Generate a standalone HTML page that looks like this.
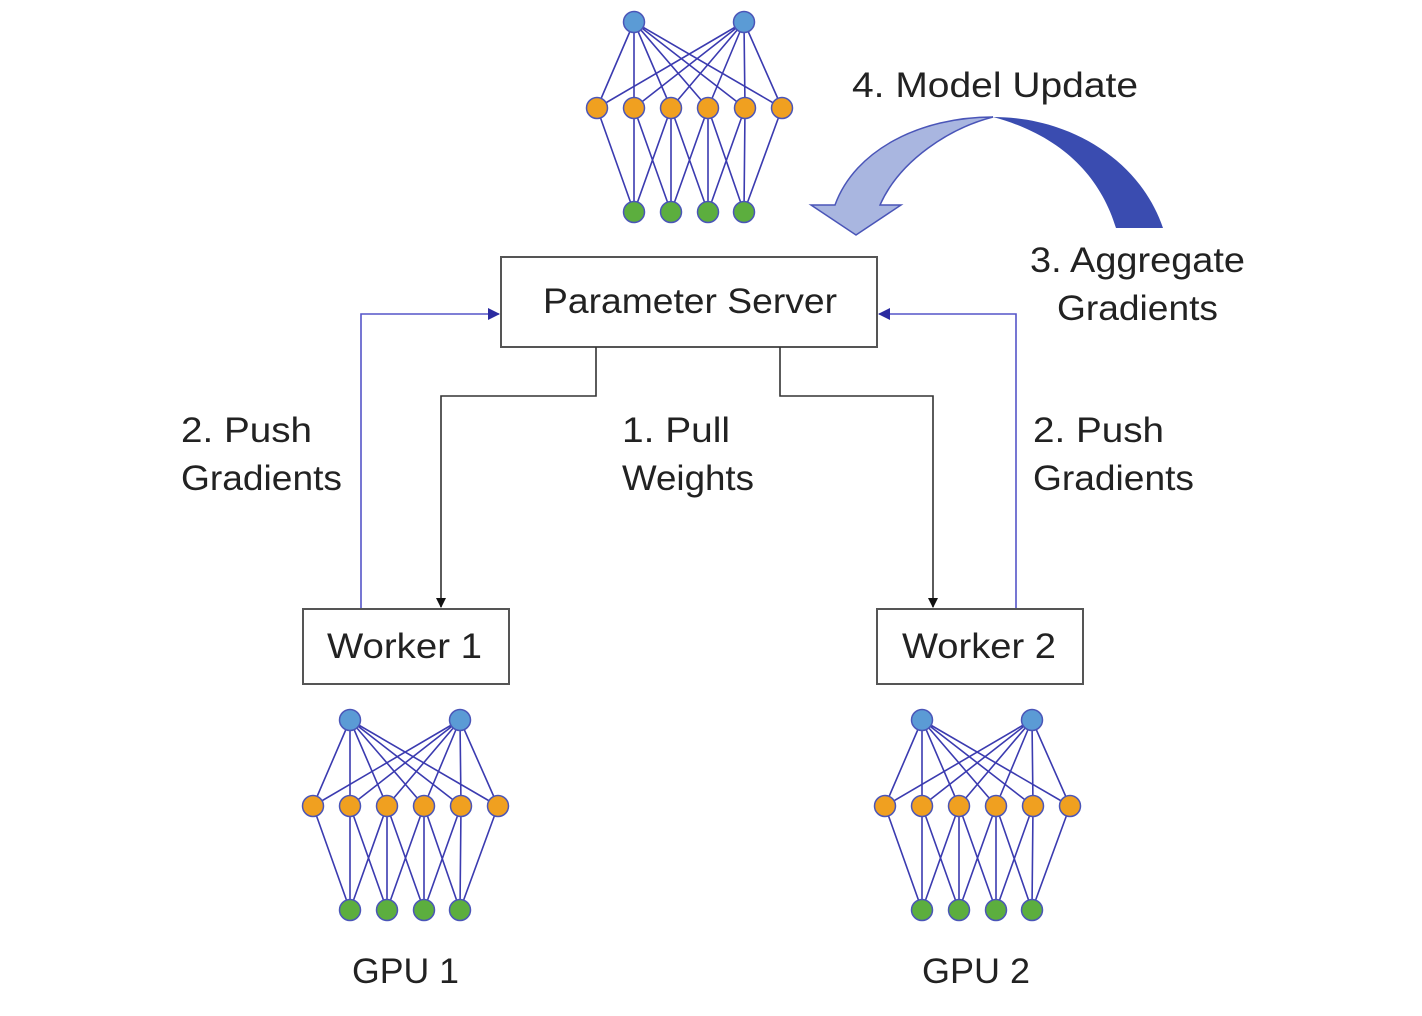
<!DOCTYPE html>
<html><head><meta charset="utf-8"><style>body{margin:0;background:#fff}svg{display:block}</style></head><body>
<svg width="1422" height="1016" viewBox="0 0 1422 1016" xmlns="http://www.w3.org/2000/svg">
<defs>
<marker id="ab" markerWidth="10" markerHeight="10" refX="9" refY="5" orient="auto" markerUnits="userSpaceOnUse"><path d="M0,0 L10,5 L0,10 z" fill="#111"/></marker>
<marker id="au" markerWidth="12" markerHeight="12" refX="11" refY="6" orient="auto" markerUnits="userSpaceOnUse"><path d="M0,0 L12,6 L0,12 z" fill="#2b2ba0"/></marker>
<g id="net">
<g stroke="#3b3bb0" stroke-width="1.6" fill="none">
<path d="M0,0 L-37,86 M0,0 L0,86 M0,0 L37,86 M0,0 L74,86 M0,0 L111,86 M0,0 L148,86"/>
<path d="M110,0 L-37,86 M110,0 L0,86 M110,0 L37,86 M110,0 L74,86 M110,0 L111,86 M110,0 L148,86"/>
<path d="M-37,86 L0,190 M0,86 L0,190 M0,86 L37,190 M37,86 L0,190 M37,86 L37,190 M37,86 L74,190 M74,86 L37,190 M74,86 L74,190 M74,86 L110,190 M111,86 L74,190 M111,86 L110,190 M148,86 L110,190"/>
</g>
<g stroke="#4a55b8" stroke-width="1.5">
<circle cx="0" cy="0" r="10.5" fill="#5b9bd5"/><circle cx="110" cy="0" r="10.5" fill="#5b9bd5"/>
<circle cx="-37" cy="86" r="10.5" fill="#f0a020"/><circle cx="0" cy="86" r="10.5" fill="#f0a020"/><circle cx="37" cy="86" r="10.5" fill="#f0a020"/><circle cx="74" cy="86" r="10.5" fill="#f0a020"/><circle cx="111" cy="86" r="10.5" fill="#f0a020"/><circle cx="148" cy="86" r="10.5" fill="#f0a020"/>
<circle cx="0" cy="190" r="10.5" fill="#5cae3e"/><circle cx="37" cy="190" r="10.5" fill="#5cae3e"/><circle cx="74" cy="190" r="10.5" fill="#5cae3e"/><circle cx="110" cy="190" r="10.5" fill="#5cae3e"/>
</g>
</g>
</defs>
<use href="#net" x="634" y="22"/>
<use href="#net" x="350" y="720"/>
<use href="#net" x="922" y="720"/>

<!-- curved arrow -->
<path d="M993,117 C1070,117 1140,160 1163,228 L1116,228 C1100,175 1060,135 993,117 z" fill="#3a4cb0"/>
<path d="M993,117 C920,117 855,150 835,205 L811,205 L856,235 L901,205 L880,205 C900,160 950,128 993,117 z" fill="#a9b6e0" stroke="#4a55b8" stroke-width="1.5"/>

<!-- boxes -->
<g fill="#fff" stroke="#555" stroke-width="2">
<rect x="501" y="257" width="376" height="90"/>
<rect x="303" y="609" width="206" height="75"/>
<rect x="877" y="609" width="206" height="75"/>
</g>

<!-- connectors -->
<g fill="none" stroke-width="1.6">
<path d="M596,347 V396 H441 V607" stroke="#333" marker-end="url(#ab)"/>
<path d="M780,347 V396 H933 V607" stroke="#333" marker-end="url(#ab)"/>
<path d="M361,608 V314 H499" stroke="#5555c8" marker-end="url(#au)"/>
<path d="M1016,608 V314 H879" stroke="#5555c8" marker-end="url(#au)"/>
</g>

<g font-family="'Liberation Sans', sans-serif" font-size="35" fill="#222">
<text x="543" y="313" textLength="294" lengthAdjust="spacingAndGlyphs">Parameter Server</text>
<text x="327" y="658" textLength="155" lengthAdjust="spacingAndGlyphs">Worker 1</text>
<text x="902" y="658" textLength="154" lengthAdjust="spacingAndGlyphs">Worker 2</text>
<text x="852" y="97" textLength="286" lengthAdjust="spacingAndGlyphs">4. Model Update</text>
<text x="1030" y="272" textLength="215" lengthAdjust="spacingAndGlyphs">3. Aggregate</text>
<text x="1057" y="320" textLength="161" lengthAdjust="spacingAndGlyphs">Gradients</text>
<text x="181" y="442" textLength="131" lengthAdjust="spacingAndGlyphs">2. Push</text>
<text x="181" y="490" textLength="161" lengthAdjust="spacingAndGlyphs">Gradients</text>
<text x="622" y="442" textLength="108" lengthAdjust="spacingAndGlyphs">1. Pull</text>
<text x="622" y="490" textLength="132" lengthAdjust="spacingAndGlyphs">Weights</text>
<text x="1033" y="442" textLength="131" lengthAdjust="spacingAndGlyphs">2. Push</text>
<text x="1033" y="490" textLength="161" lengthAdjust="spacingAndGlyphs">Gradients</text>
<text x="352" y="983" textLength="107" lengthAdjust="spacingAndGlyphs">GPU 1</text>
<text x="922" y="983" textLength="108" lengthAdjust="spacingAndGlyphs">GPU 2</text>
</g>
</svg>
</body></html>
